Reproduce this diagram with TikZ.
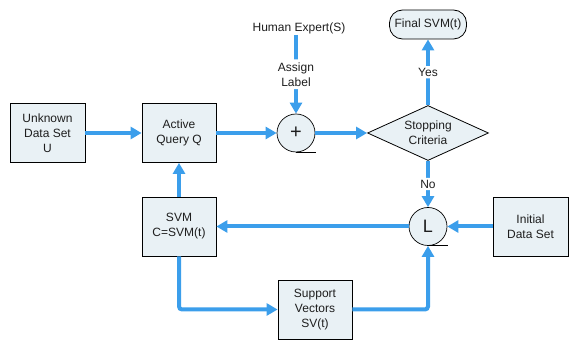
\documentclass[tikz,border=0pt]{standalone}
\usepackage{fontspec}
\setmainfont{Liberation Sans}
\usetikzlibrary{arrows.meta,shapes.geometric}
\definecolor{boxfill}{RGB}{233,241,245}
\definecolor{flow}{RGB}{59,158,235}
\definecolor{txt}{RGB}{30,30,30}
\tikzset{
  blk/.style={draw=black, line width=0.8pt, fill=boxfill, minimum width=75pt, minimum height=59pt, align=center, inner sep=1pt, text=txt, font=\fontsize{12}{15}\selectfont},
  junc/.style={draw=black, line width=0.7pt, fill=boxfill, circle, minimum size=38pt, inner sep=0pt, text=txt},
  flowarrow/.style={draw=flow, line width=4pt, -{Triangle[length=11pt,width=12pt]}, rounded corners=3pt},
  lbl/.style={fill=white, text=txt, font=\fontsize{12}{15}\selectfont, align=center, inner sep=2pt},
}
\begin{document}
\begin{tikzpicture}[x=1pt,y=-1pt]
\useasboundingbox (0,0) rectangle (576,352);
\node[blk] (U) at (47.5,133) {Unknown\\Data Set\\U};
\node[blk, minimum width=74pt] (AQ) at (179,133) {Active\\Query Q};
\node[junc, font=\fontsize{20}{20}\selectfont] (P) at (296,133) {+};
\node[draw=black, line width=0.8pt, fill=boxfill, diamond, aspect=2.2, minimum width=121pt, minimum height=55pt, inner sep=0pt, align=center, text=txt, font=\fontsize{12}{15}\selectfont] (D) at (428,133) {Stopping\\Criteria};
\node[draw=black, line width=0.8pt, fill=boxfill, rounded corners=13pt, minimum width=77pt, minimum height=29pt, inner sep=2pt, text=txt, font=\fontsize{12}{15}\selectfont] (F) at (428,24.5) {Final SVM(t)};
\node[text=txt, font=\fontsize{12}{15}\selectfont, inner sep=1pt] (H) at (299,28) {Human Expert(S)};
\node[junc, font=\fontsize{18}{18}\selectfont] (L) at (428,226.5) {L};
\node[blk] (I) at (530.5,226.5) {Initial\\Data Set};
\node[blk, minimum width=74pt] (S) at (179,226.5) {SVM\\C=SVM(t)};
\node[blk, minimum width=74pt] (V) at (315,309.5) {Support\\Vectors\\SV(t)};

\draw[black, line width=0.8pt] (P.south) -- ++(20,0);
\draw[black, line width=0.8pt] (L.south) -- ++(20,0);

\draw[flowarrow] (U) -- (AQ);
\draw[flowarrow] (AQ) -- (P);
\draw[flowarrow] (P) -- (D);
\draw[flowarrow] (D.north) -- node[lbl] {Yes} (F.south);
\draw[flowarrow] (D.south) -- node[lbl] {No} (L.north);
\draw[flowarrow] (I) -- (L);
\draw[flowarrow] (L) -- (S);
\draw[flowarrow] (S) -- (AQ);
\draw[flowarrow] (S.south) |- (V.west);
\draw[flowarrow] (V.east) -| (L.south);
\draw[flowarrow] (P.north |- H.south) -- node[lbl, inner sep=3pt] {Assign\\Label} (P.north);
\end{tikzpicture}
\end{document}
